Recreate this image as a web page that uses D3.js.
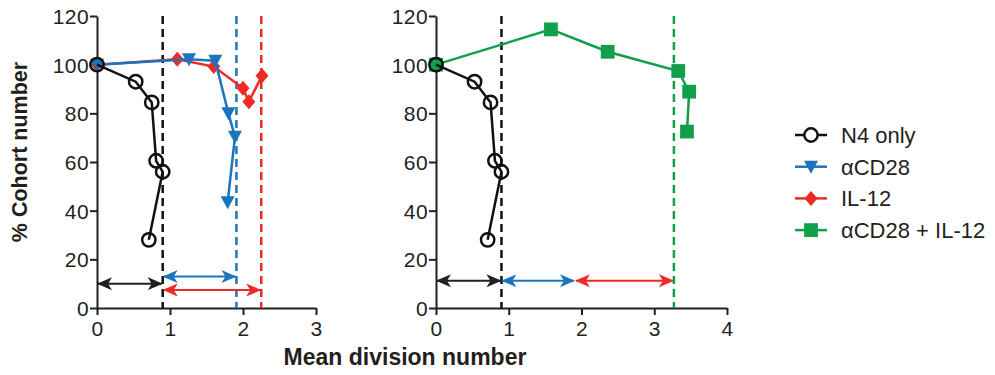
<!DOCTYPE html>
<html>
<head>
<meta charset="utf-8">
<script src="https://cdn.jsdelivr.net/npm/d3@7"></script>
<style>
  body { margin: 0; background: #fff; }
  svg { font-family: "Liberation Sans", Arial, Helvetica, sans-serif; }
</style>
</head>
<body>
<div id="chart"></div>
<script>
// data
const n4X = [0, 0.53, 0.75, 0.81, 0.9, 0.71];
const n4Y = [100, 93, 84.5, 60.5, 56, 28];
const cd28X = [0, 1.26, 1.62, 1.8, 1.89, 1.79];
const cd28Y = [100, 102.2, 101.6, 80, 70.4, 43.5];
const il12X = [0, 1.1, 1.6, 2.0, 2.08, 2.26];
const il12Y = [100, 102.2, 99.2, 90.3, 84.8, 95.4];
const comboX = [0, 1.58, 2.36, 3.33, 3.48, 3.45];
const comboY = [100, 114.5, 105.3, 97.4, 88.9, 72.5];

const yTicks = [0, 20, 40, 60, 80, 100, 120];
const leftXTicks = [0, 1, 2, 3];
const rightXTicks = [0, 1, 2, 3, 4];

// mean division number markers
const leftDashes = [["n4", 0.9], ["cd28", 1.91], ["il12", 2.25]];
const rightDashes = [["n4", 0.9], ["combo", 3.27]];
// arrows: [color key, from, to, y]
const leftArrows = [["n4", 0, 0.9, 10], ["cd28", 0.9, 1.91, 12.9], ["il12", 0.9, 2.25, 7.4]];
const rightArrows = [["n4", 0, 0.9, 11.2], ["cd28", 0.9, 1.91, 11.2], ["il12", 1.91, 3.27, 11.2]];

const legendNames = ["N4 only", "\u03b1CD28", "IL-12", "\u03b1CD28 + IL-12"];

const colors = { n4: "#111111", cd28: "#1b75bc", il12: "#ee2a24", combo: "#10a04a" };
const arrowColors = { n4: "#231f20", cd28: "#1b75bc", il12: "#ee2a24" };

const width = 995, height = 375;
const svg = d3.select("#chart").append("svg")
  .attr("width", width).attr("height", height);

const defs = svg.append("defs");
Object.entries(arrowColors).forEach(([k, c]) => {
  defs.append("marker")
    .attr("id", "arr-" + k)
    .attr("viewBox", "0 -7 15 14")
    .attr("refX", 14).attr("refY", 0)
    .attr("markerWidth", 15).attr("markerHeight", 14)
    .attr("markerUnits", "userSpaceOnUse")
    .attr("orient", "auto-start-reverse")
    .append("path")
    .attr("d", "M0,-6.5L15,0L0,6.5L4,0Z")
    .attr("fill", c);
});

const triDown = "M-7,-6L7,-6L0,7Z";
const markerPath = {
  n4: d3.symbol(d3.symbolCircle, 140)(),
  cd28: triDown,
  il12: "M0,-7.5L6.5,0L0,7.5L-6.5,0Z",
  combo: d3.symbol(d3.symbolSquare, 190)()
};

function zipPts(xs, ys) { return xs.map((x, i) => [x, ys[i]]); }

function drawSeries(g, x, y, key, xs, ys) {
  const pts = zipPts(xs, ys);
  const line = d3.line().x(d => x(d[0])).y(d => y(d[1]));
  g.append("path")
    .attr("d", line(pts))
    .attr("fill", "none")
    .attr("stroke", colors[key])
    .attr("stroke-width", 2.5);
  g.selectAll(null).data(pts).enter().append("path")
    .attr("d", markerPath[key])
    .attr("transform", d => `translate(${x(d[0])},${y(d[1])})`)
    .attr("fill", key === "n4" ? "none" : colors[key])
    .attr("stroke", colors[key])
    .attr("stroke-width", key === "n4" ? 2.5 : 0);
}

function drawPanel(x0, x1, xMax, xTicks, dashes, arrows, series) {
  const x = d3.scaleLinear().domain([0, xMax]).range([x0, x1]);
  const y = d3.scaleLinear().domain([0, 120]).range([308, 16]);
  const g = svg.append("g");

  const xAxis = g.append("g").attr("transform", "translate(0,308)")
    .call(d3.axisBottom(x).tickValues(xTicks).tickFormat(d3.format("d")).tickSize(7).tickSizeOuter(0));
  const yAxis = g.append("g").attr("transform", `translate(${x0},0)`)
    .call(d3.axisLeft(y).tickValues(yTicks).tickSize(7).tickSizeOuter(0));
  [xAxis, yAxis].forEach(a => {
    a.select(".domain").attr("stroke", "#231f20").attr("stroke-width", 2);
    a.selectAll(".tick line").attr("stroke", "#231f20").attr("stroke-width", 2);
    a.selectAll(".tick text").attr("fill", "#231f20")
      .style("font-size", "21px").style("letter-spacing", "0.4px").attr("font-family", null);
  });
  xAxis.selectAll(".tick text").attr("dy", "0.85em");
  yAxis.selectAll(".tick text").attr("x", -8).attr("dy", "0.36em");

  dashes.forEach(([k, v]) => {
    g.append("line")
      .attr("x1", x(v)).attr("x2", x(v))
      .attr("y1", y(120)).attr("y2", y(0))
      .attr("stroke", colors[k]).attr("stroke-width", 2.5)
      .attr("stroke-dasharray", "8,5");
  });

  arrows.forEach(([k, a, b, v]) => {
    g.append("line")
      .attr("x1", x(a) + 1).attr("x2", x(b) - 1)
      .attr("y1", y(v)).attr("y2", y(v))
      .attr("stroke", arrowColors[k]).attr("stroke-width", 2)
      .attr("marker-start", `url(#arr-${k})`)
      .attr("marker-end", `url(#arr-${k})`);
  });

  series.forEach(s => drawSeries(g, x, y, s[0], s[1], s[2]));
}

drawPanel(97, 316, 3, leftXTicks, leftDashes, leftArrows,
  [["il12", il12X, il12Y], ["cd28", cd28X, cd28Y], ["n4", n4X, n4Y]]);
drawPanel(436, 727, 4, rightXTicks, rightDashes, rightArrows,
  [["combo", comboX, comboY], ["n4", n4X, n4Y]]);

// axis titles
svg.append("text")
  .attr("transform", "translate(27,152) rotate(-90)")
  .attr("text-anchor", "middle")
  .style("font-size", "21.5px").style("font-weight", "bold")
  .attr("fill", "#231f20")
  .text("% Cohort number");
svg.append("text")
  .attr("x", 405).attr("y", 365)
  .attr("text-anchor", "middle")
  .style("font-size", "23px").style("font-weight", "bold")
  .attr("fill", "#231f20")
  .text("Mean division number");

// legend
const legendKeys = ["n4", "cd28", "il12", "combo"];
const lg = svg.append("g");
const item = lg.selectAll("g").data(legendKeys).enter().append("g")
  .attr("transform", (d, i) => `translate(795,${135 + i * 31.7})`);
item.append("line")
  .attr("x1", 0).attr("x2", 32)
  .attr("stroke", d => colors[d]).attr("stroke-width", 2.5);
item.append("path")
  .attr("d", d => markerPath[d])
  .attr("transform", "translate(16,0)")
  .attr("fill", d => d === "n4" ? "#fff" : colors[d])
  .attr("stroke", d => colors[d])
  .attr("stroke-width", d => d === "n4" ? 2.5 : 0);
item.append("text")
  .attr("x", 46).attr("dy", "0.36em")
  .style("font-size", "22px")
  .attr("fill", "#231f20")
  .text((d, i) => legendNames[i]);
</script>
</body>
</html>
